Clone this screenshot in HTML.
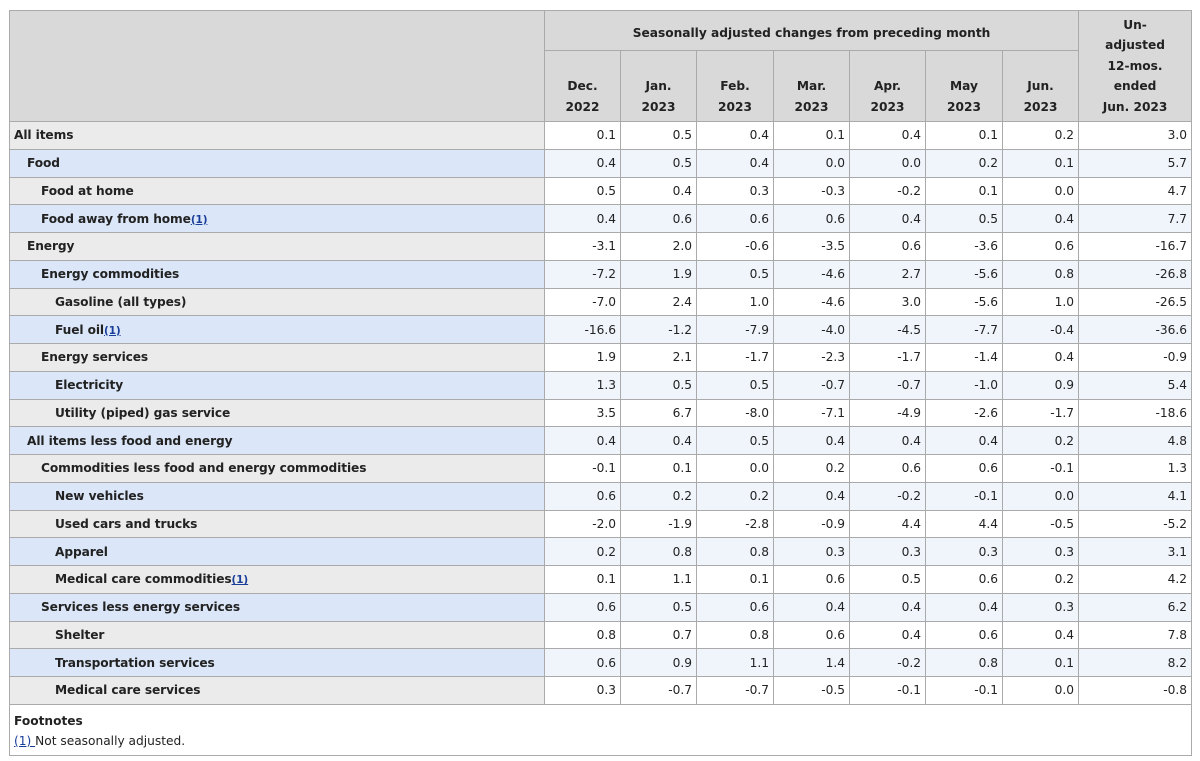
<!DOCTYPE html>
<html><head><meta charset="utf-8"><style>
body{margin:0;background:#fff;font-family:"DejaVu Sans","Liberation Sans",sans-serif;color:#222;}
table{position:absolute;left:9px;top:10px;border-collapse:collapse;table-layout:fixed;width:1182px;}
td,th{border:1px solid #aaa;padding:0 4px;font-size:12.2px;box-sizing:border-box;}
th{background:#d9d9d9;font-weight:bold;text-align:center;line-height:20.5px;}
td{height:27.76px;text-align:right;}
td.l{text-align:left;font-weight:bold;background:#ebebeb;letter-spacing:-0.1px}
tr.b td{background:#f0f5fc;}
tr.b td.l{background:#dbe7f8;}
.i1{padding-left:17px}.i2{padding-left:31px}.i3{padding-left:45px}
sup{font-size:10.5px;vertical-align:baseline;color:#1a3f9a;text-decoration:underline}
td.f{text-align:left;background:#fff;height:51px;font-size:12.2px;line-height:20px;padding-top:2px}
a{color:#1a3f9a}
</style></head><body>
<table>
<colgroup><col style="width:535px"><col style="width:76px"><col style="width:76px"><col style="width:77px"><col style="width:76px"><col style="width:76px"><col style="width:77px"><col style="width:76px"><col style="width:113px"></colgroup>
<tr style="height:40px"><th rowspan="2"></th><th colspan="7" style="padding-top:6px">Seasonally adjusted changes from preceding month</th><th rowspan="2">Un-<br>adjusted<br>12-mos.<br>ended<br>Jun. 2023</th></tr>
<tr style="height:71px"><th style="vertical-align:bottom;padding-bottom:4px">Dec.<br>2022</th><th style="vertical-align:bottom;padding-bottom:4px">Jan.<br>2023</th><th style="vertical-align:bottom;padding-bottom:4px">Feb.<br>2023</th><th style="vertical-align:bottom;padding-bottom:4px">Mar.<br>2023</th><th style="vertical-align:bottom;padding-bottom:4px">Apr.<br>2023</th><th style="vertical-align:bottom;padding-bottom:4px">May<br>2023</th><th style="vertical-align:bottom;padding-bottom:4px">Jun.<br>2023</th></tr>
<tr><td class="l">All items</td><td>0.1</td><td>0.5</td><td>0.4</td><td>0.1</td><td>0.4</td><td>0.1</td><td>0.2</td><td>3.0</td></tr>
<tr class="b"><td class="l i1">Food</td><td>0.4</td><td>0.5</td><td>0.4</td><td>0.0</td><td>0.0</td><td>0.2</td><td>0.1</td><td>5.7</td></tr>
<tr><td class="l i2">Food at home</td><td>0.5</td><td>0.4</td><td>0.3</td><td>-0.3</td><td>-0.2</td><td>0.1</td><td>0.0</td><td>4.7</td></tr>
<tr class="b"><td class="l i2">Food away from home<sup>(1)</sup></td><td>0.4</td><td>0.6</td><td>0.6</td><td>0.6</td><td>0.4</td><td>0.5</td><td>0.4</td><td>7.7</td></tr>
<tr><td class="l i1">Energy</td><td>-3.1</td><td>2.0</td><td>-0.6</td><td>-3.5</td><td>0.6</td><td>-3.6</td><td>0.6</td><td>-16.7</td></tr>
<tr class="b"><td class="l i2">Energy commodities</td><td>-7.2</td><td>1.9</td><td>0.5</td><td>-4.6</td><td>2.7</td><td>-5.6</td><td>0.8</td><td>-26.8</td></tr>
<tr><td class="l i3">Gasoline (all types)</td><td>-7.0</td><td>2.4</td><td>1.0</td><td>-4.6</td><td>3.0</td><td>-5.6</td><td>1.0</td><td>-26.5</td></tr>
<tr class="b"><td class="l i3">Fuel oil<sup>(1)</sup></td><td>-16.6</td><td>-1.2</td><td>-7.9</td><td>-4.0</td><td>-4.5</td><td>-7.7</td><td>-0.4</td><td>-36.6</td></tr>
<tr><td class="l i2">Energy services</td><td>1.9</td><td>2.1</td><td>-1.7</td><td>-2.3</td><td>-1.7</td><td>-1.4</td><td>0.4</td><td>-0.9</td></tr>
<tr class="b"><td class="l i3">Electricity</td><td>1.3</td><td>0.5</td><td>0.5</td><td>-0.7</td><td>-0.7</td><td>-1.0</td><td>0.9</td><td>5.4</td></tr>
<tr><td class="l i3">Utility (piped) gas service</td><td>3.5</td><td>6.7</td><td>-8.0</td><td>-7.1</td><td>-4.9</td><td>-2.6</td><td>-1.7</td><td>-18.6</td></tr>
<tr class="b"><td class="l i1">All items less food and energy</td><td>0.4</td><td>0.4</td><td>0.5</td><td>0.4</td><td>0.4</td><td>0.4</td><td>0.2</td><td>4.8</td></tr>
<tr><td class="l i2">Commodities less food and energy commodities</td><td>-0.1</td><td>0.1</td><td>0.0</td><td>0.2</td><td>0.6</td><td>0.6</td><td>-0.1</td><td>1.3</td></tr>
<tr class="b"><td class="l i3">New vehicles</td><td>0.6</td><td>0.2</td><td>0.2</td><td>0.4</td><td>-0.2</td><td>-0.1</td><td>0.0</td><td>4.1</td></tr>
<tr><td class="l i3">Used cars and trucks</td><td>-2.0</td><td>-1.9</td><td>-2.8</td><td>-0.9</td><td>4.4</td><td>4.4</td><td>-0.5</td><td>-5.2</td></tr>
<tr class="b"><td class="l i3">Apparel</td><td>0.2</td><td>0.8</td><td>0.8</td><td>0.3</td><td>0.3</td><td>0.3</td><td>0.3</td><td>3.1</td></tr>
<tr><td class="l i3">Medical care commodities<sup>(1)</sup></td><td>0.1</td><td>1.1</td><td>0.1</td><td>0.6</td><td>0.5</td><td>0.6</td><td>0.2</td><td>4.2</td></tr>
<tr class="b"><td class="l i2">Services less energy services</td><td>0.6</td><td>0.5</td><td>0.6</td><td>0.4</td><td>0.4</td><td>0.4</td><td>0.3</td><td>6.2</td></tr>
<tr><td class="l i3">Shelter</td><td>0.8</td><td>0.7</td><td>0.8</td><td>0.6</td><td>0.4</td><td>0.6</td><td>0.4</td><td>7.8</td></tr>
<tr class="b"><td class="l i3">Transportation services</td><td>0.6</td><td>0.9</td><td>1.1</td><td>1.4</td><td>-0.2</td><td>0.8</td><td>0.1</td><td>8.2</td></tr>
<tr><td class="l i3">Medical care services</td><td>0.3</td><td>-0.7</td><td>-0.7</td><td>-0.5</td><td>-0.1</td><td>-0.1</td><td>0.0</td><td>-0.8</td></tr>
<tr><td class="f" colspan="9"><b>Footnotes</b><br><a href="#">(1) </a>Not seasonally adjusted.</td></tr>
</table>
</body></html>
